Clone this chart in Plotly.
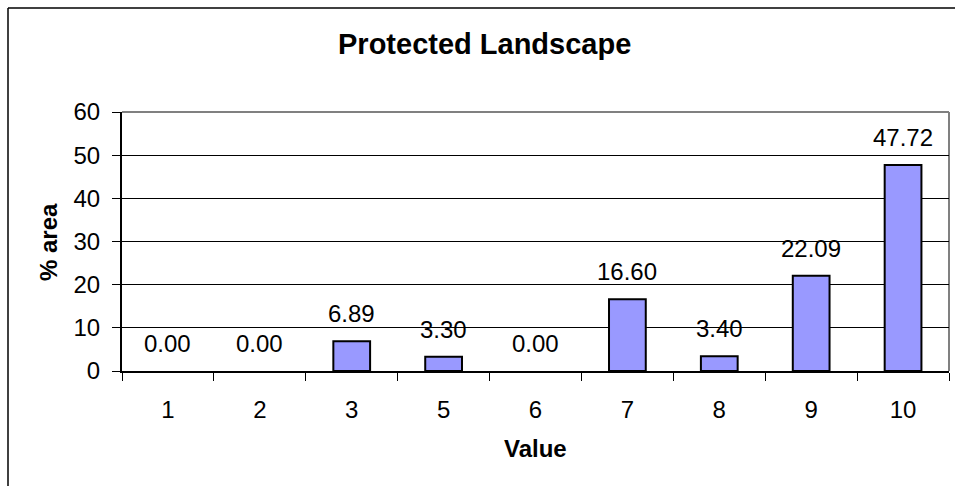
import plotly.graph_objects as go

categories = ["1", "2", "3", "5", "6", "7", "8", "9", "10"]
values = [0.00, 0.00, 6.89, 3.30, 0.00, 16.60, 3.40, 22.09, 47.72]
y_ticks = [0, 10, 20, 30, 40, 50, 60]

W, H = 955, 486
L, R, T, B = 122, 6, 112, 115
PW = W - L - R
PH = H - T - B


def px_x(px):
    return (px - L) / PW


def px_y(py):
    return (H - B - py) / PH


FONT = "Liberation Sans, Arial, sans-serif"

idx = list(range(len(categories)))

fig = go.Figure()
fig.add_trace(go.Bar(
    x=idx, y=values,
    marker=dict(color="#9999FF",
                line=dict(color="black", width=[2 if v > 0 else 0 for v in values])),
    width=0.4, hoverinfo="skip",
))

for i, v in zip(idx, values):
    fig.add_annotation(
        x=i, y=v, xref="x", yref="y", text=f"{v:.2f}", showarrow=False,
        yanchor="bottom", yshift=12,
        font=dict(family=FONT, size=24, color="black"),
    )

# Axis titles and chart title
fig.add_annotation(x=px_x(535.5), y=px_y(448), xref="paper", yref="paper",
                   text="<b>Value</b>", showarrow=False, xanchor="center", yanchor="middle",
                   font=dict(family=FONT, size=24, color="black"))
fig.add_annotation(x=px_x(48), y=px_y(242), xref="paper", yref="paper",
                   text="<b>% area</b>", showarrow=False, textangle=-90,
                   xanchor="center", yanchor="middle",
                   font=dict(family=FONT, size=24, color="black"))
fig.add_annotation(x=px_x(484), y=px_y(43.5), xref="paper", yref="paper",
                   text="<b>Protected Landscape</b>", showarrow=False,
                   xanchor="center", yanchor="middle",
                   font=dict(family=FONT, size=29, color="black"))

# plot area border (gray) top and right
fig.add_shape(type="line", xref="paper", yref="paper", x0=0, x1=1, y0=1, y1=1,
              line=dict(color="#808080", width=2), layer="below")
fig.add_shape(type="line", xref="paper", yref="paper", x0=1, x1=1, y0=0, y1=1,
              line=dict(color="#808080", width=2), layer="below")

# outer chart border (left and top visible)
fig.add_shape(type="line", xref="paper", yref="paper", x0=px_x(8), x1=px_x(8),
              y0=px_y(H + 20), y1=px_y(8), line=dict(color="black", width=1.5))
fig.add_shape(type="line", xref="paper", yref="paper", x0=px_x(8), x1=px_x(W + 20),
              y0=px_y(8), y1=px_y(8), line=dict(color="black", width=1.5))

fig.update_layout(
    width=W, height=H,
    margin=dict(l=L, r=R, t=T, b=B, pad=0),
    paper_bgcolor="white", plot_bgcolor="white",
    showlegend=False,
    font=dict(family=FONT, size=24, color="black"),
    xaxis=dict(
        range=[-0.5, len(categories) - 0.5],
        tickmode="array", tickvals=idx, ticktext=categories,
        showgrid=False, showline=True, linecolor="black", linewidth=2,
        ticks="", ticklabelstandoff=16,
        tickfont=dict(family=FONT, size=24, color="black"),
        minor=dict(tickmode="array", tickvals=[i - 0.5 for i in idx] + [len(idx) - 0.5],
                   ticks="outside", ticklen=8, tickwidth=1, tickcolor="black", showgrid=False),
        zeroline=False,
    ),
    yaxis=dict(
        range=[0, 60], tickvals=y_ticks, showgrid=True, gridcolor="black", gridwidth=1,
        showline=True, linecolor="black", linewidth=2, zeroline=False,
        ticks="outside", ticklen=8, tickwidth=1, tickcolor="black",
        ticklabelstandoff=7,
        tickfont=dict(family=FONT, size=24, color="black"),
    ),
)

fig.write_html("out.html")
